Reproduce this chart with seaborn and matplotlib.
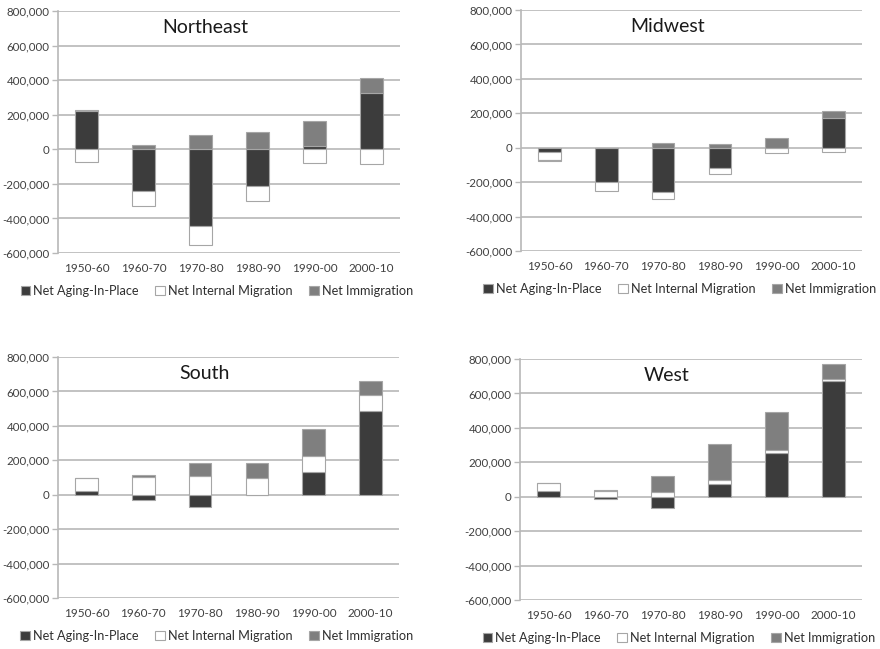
import numpy as np
import pandas as pd
import matplotlib
matplotlib.use("Agg")
import matplotlib.pyplot as plt
import seaborn as sns
from matplotlib.patches import Patch
from matplotlib.ticker import FuncFormatter

# Decades shown on every panel
decades = ["1950-60", "1960-70", "1970-80", "1980-90", "1990-00", "2000-10"]
series_names = ["Net Aging-In-Place", "Net Internal Migration", "Net Immigration"]

# Components of change per region (persons)
ne_aging = [220000, -240000, -442000, -211000, 21000, 327000]
ne_internal = [-76000, -87000, -111000, -90000, -79000, -86000]
ne_immig = [6000, 23000, 81000, 102000, 143000, 88000]

mw_aging = [-22000, -199000, -259000, -120000, -3000, 174000]
mw_internal = [-52000, -53000, -39000, -33000, -27000, -27000]
mw_immig = [-6000, 0, 25000, 19000, 58000, 41000]

so_aging = [19000, -29000, -73000, 0, 133000, 485000]
so_internal = [80000, 104000, 110000, 100000, 89000, 93000]
so_immig = [0, 11000, 76000, 82000, 157000, 83000]

we_aging = [33000, -15000, -64000, 76000, 256000, 672000]
we_internal = [46000, 33000, 29000, 22000, 13000, 13000]
we_immig = [0, 5000, 91000, 206000, 221000, 86000]

regions = {
    "Northeast": (ne_aging, ne_internal, ne_immig),
    "Midwest": (mw_aging, mw_internal, mw_immig),
    "South": (so_aging, so_internal, so_immig),
    "West": (we_aging, we_internal, we_immig),
}

colors = ["#3c3c3c", "#ffffff", "#7f7f7f"]
edge = "#a6a6a6"
grid_c = "#b8b8b8"

sns.set_theme(style="white")
plt.rcParams["font.family"] = ["Lato", "DejaVu Sans"]

fig = plt.figure(figsize=(8.8, 6.49), dpi=100)
W, H = 880, 649
# axes boxes in pixels: left, top, right, bottom
boxes = {
    "Northeast": (58, 11, 400, 253),
    "Midwest": (521, 10, 862, 251),
    "South": (58, 357, 399, 598),
    "West": (520, 359, 862, 600),
}

fmt = FuncFormatter(lambda v, p: f"{int(v):,}")

for name, comps in regions.items():
    l, t, r, b = boxes[name]
    ax = fig.add_axes([l / W, 1 - b / H, (r - l) / W, (b - t) / H])
    pos_base = np.zeros(len(decades))
    neg_base = np.zeros(len(decades))
    for sname, vals, col in zip(series_names, comps, colors):
        vals = np.array(vals, dtype=float)
        bottoms = np.where(vals >= 0, pos_base, neg_base)
        df = pd.DataFrame({"decade": decades, "value": vals})
        sns.barplot(data=df, x="decade", y="value", order=decades, ax=ax,
                    color=col, bottom=bottoms, width=0.4, errorbar=None,
                    edgecolor=edge, linewidth=0.8, saturation=1, zorder=3)
        pos_base = pos_base + np.clip(vals, 0, None)
        neg_base = neg_base + np.clip(vals, None, 0)
    ax.set_ylim(-600000, 800000)
    ax.set_yticks(np.arange(-600000, 800001, 200000))
    ax.yaxis.set_major_formatter(fmt)
    ax.set_xlim(-0.5, 5.5)
    ax.set_xlabel("")
    ax.set_ylabel("")
    ax.grid(axis="y", color=grid_c, linewidth=1.2, zorder=0)
    ax.set_axisbelow(True)
    for s in ["top", "right", "bottom"]:
        ax.spines[s].set_visible(False)
    ax.spines["left"].set_color(grid_c)
    ax.spines["left"].set_linewidth(1.2)
    ax.tick_params(axis="y", length=4, color=grid_c, width=1, pad=2,
                   labelsize=8.3, labelcolor="#404040", left=True)
    ax.tick_params(axis="x", length=0, pad=7, labelsize=8.5, labelcolor="#404040")
    ax.text(0.43, 0.965, name, transform=ax.transAxes, ha="center",
            va="top", fontsize=14, color="#1a1a1a")
    handles = [Patch(facecolor=c, edgecolor=edge, linewidth=0.8) for c in colors]
    ax.legend(handles, series_names, loc="upper center",
              bbox_to_anchor=(0.465, -0.095), ncol=3, frameon=False,
              fontsize=9.2, handlelength=0.75, handleheight=0.75,
              handletextpad=0.25, columnspacing=1.3, labelcolor="#303030",
              borderpad=0.2)

fig.savefig("out.png", dpi=100, facecolor="white")
